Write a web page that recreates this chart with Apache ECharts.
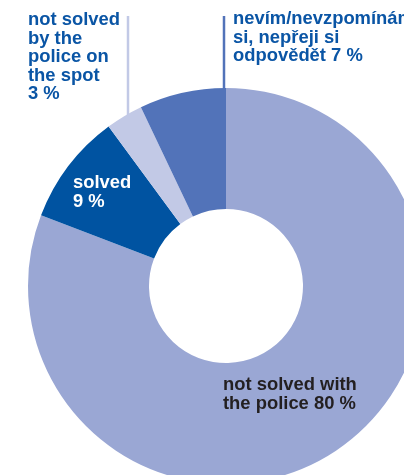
<!DOCTYPE html>
<html>
<head>
<meta charset="utf-8">
<script src="https://cdn.jsdelivr.net/npm/echarts@6/dist/echarts.min.js"></script>
<style>
  html, body { margin: 0; padding: 0; background: #fff; }
  #chart { width: 404px; height: 475px; }
</style>
</head>
<body>
<div id="chart"></div>
<script>
// Share of answers, listed clockwise from 12 o'clock
const categories = [
  'not solved with\nthe police',
  'solved',
  'not solved\nby the\npolice on\nthe spot',
  'nevím/nevzpomínám\nsi, nepřeji si\nodpovědět'
];
const values = [80, 9, 3, 7];
const sliceColors = ['#9AA7D4', '#0053A1', '#C2C9E6', '#5273B9'];
const labelColors = ['#231F20', '#FFFFFF', '#0A55A5', '#0A55A5'];

const chart = echarts.init(document.getElementById('chart'), null, { renderer: 'canvas' });

// Where each label's text block sits and, for the outer ones, the vertical leader line
const labelPlacement = [
  { x: 223, y: 376 },
  { x: 73, y: 174 },
  { x: 28, y: 11 },
  { x: 233, y: 10 }
];
const leaderLines = {
  2: [[128, 16], [128, 117]],
  3: [[224, 16], [224, 119]]
};

const data = values.map((v, i) => ({
  name: categories[i],
  value: v,
  itemStyle: { color: sliceColors[i] },
  label: { color: labelColors[i] },
  labelLine: {
    show: !!leaderLines[i],
    lineStyle: { color: sliceColors[i], width: 2.5 }
  }
}));

chart.setOption({
  animation: false,
  series: [{
    type: 'pie',
    center: [226, 286],
    radius: [77, 198],
    startAngle: 90,
    clockwise: true,
    avoidLabelOverlap: false,
    data: data,
    label: {
      show: true,
      position: 'outside',
      fontFamily: '"Liberation Sans", Arial, sans-serif',
      fontWeight: 'bold',
      fontSize: 18.4,
      lineHeight: 18.5,
      formatter: p => {
        const lines = p.name.split('\n');
        if (p.dataIndex === 1 || p.dataIndex === 2) {
          lines.push(p.value + ' %');
        } else {
          lines[lines.length - 1] += ' ' + p.value + ' %';
        }
        return lines.join('\n');
      }
    },
    labelLayout: params => {
      const pl = labelPlacement[params.dataIndex];
      const out = { x: pl.x, y: pl.y, align: 'left', verticalAlign: 'top', hideOverlap: false };
      if (leaderLines[params.dataIndex]) out.labelLinePoints = leaderLines[params.dataIndex];
      return out;
    }
  }]
});
</script>
</body>
</html>
